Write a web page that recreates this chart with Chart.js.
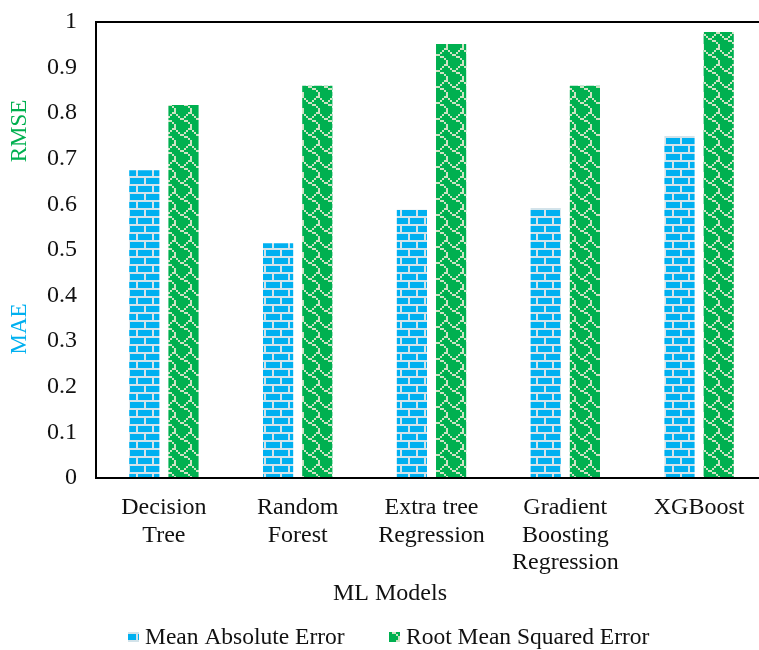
<!DOCTYPE html>
<html>
<head>
<meta charset="utf-8">
<title>MAE / RMSE by model</title>
<script src="https://cdn.jsdelivr.net/npm/chart.js@4.4.1/dist/chart.umd.min.js"></script>
<style>
  html, body { margin: 0; padding: 0; background: #fff; }
  #wrap { width: 759px; height: 650px; overflow: hidden; position: relative; }
  #chart { display: block; }
</style>
</head>
<body>
<div id="wrap"><canvas id="chart" width="766" height="650"></canvas></div>
<script>
// data
const models = [
  ["Decision", "Tree"],
  ["Random", "Forest"],
  ["Extra tree", "Regression"],
  ["Gradient", "Boosting", "Regression"],
  "XGBoost"
];
const maeValues  = [0.675, 0.515, 0.588, 0.592, 0.750];
const rmseValues = [0.818, 0.860, 0.952, 0.860, 0.978];
const yTickLabels = ["0", "0.1", "0.2", "0.3", "0.4", "0.5", "0.6", "0.7", "0.8", "0.9", "1"];
const seriesNames = ["Mean Absolute Error", "Root Mean Squared Error"];

const BLUE = "#00B0F0";
const GREEN = "#00B050";
const FONT = "'Liberation Serif', 'Times New Roman', serif";
const PLOT_TOP = 22;

// 8x8 hatch bitmaps, drawn at 2x
const brickBits = [
  "11111111",
  "10000000",
  "10000000",
  "10000000",
  "11111111",
  "00001000",
  "00001000",
  "00001000"
];
const shingleBits = [
  "00000011",
  "10000100",
  "01001000",
  "00110000",
  "00001100",
  "00000010",
  "00000001",
  "00000001"
];

function makePattern(ctx, bits, bg, fg){
  const c = document.createElement("canvas");
  c.width = 16; c.height = 16;
  const g = c.getContext("2d");
  g.fillStyle = bg;
  g.fillRect(0, 0, 16, 16);
  g.fillStyle = fg;
  bits.forEach((row, y) => {
    [...row].forEach((b, x) => { if(b === "1") g.fillRect(x*2, y*2, 2, 2); });
  });
  return ctx.createPattern(c, "repeat");
}

const canvas = document.getElementById("chart");
const ctx = canvas.getContext("2d");
const brick = makePattern(ctx, brickBits, BLUE, "#d3e3ea");
const shingle = makePattern(ctx, shingleBits, GREEN, "#cfe3c4");

// pin the top of the plot area
const pinTop = {
  id: "pinTop",
  afterLayout(chart){
    const y = chart.scales.y;
    y.top = PLOT_TOP;
    y.height = y.bottom - PLOT_TOP;
    y.configure();
    chart.chartArea.top = PLOT_TOP;
    chart.chartArea.height = chart.chartArea.bottom - PLOT_TOP;
  }
};

// frame, axis titles and legend
const decor = {
  id: "decor",
  afterDraw(chart){
    const { ctx, chartArea: a } = chart;
    ctx.save();
    ctx.strokeStyle = "#000";
    ctx.lineWidth = 2;
    ctx.beginPath();
    ctx.moveTo(a.right + 2, a.top);
    ctx.lineTo(a.left - 1, a.top);
    ctx.lineTo(a.left - 1, a.bottom);
    ctx.lineTo(a.right + 2, a.bottom);
    ctx.stroke();

    ctx.textBaseline = "middle";

    // y titles
    ctx.font = `23px ${FONT}`;
    ctx.textAlign = "center";
    [["RMSE", GREEN, 131], ["MAE", BLUE, 329]].forEach(([t, col, y]) => {
      ctx.save();
      ctx.translate(20, y);
      ctx.rotate(-Math.PI / 2);
      ctx.fillStyle = col;
      ctx.fillText(t, 0, 0);
      ctx.restore();
    });

    // x title
    ctx.font = `24px ${FONT}`;
    ctx.fillStyle = "#111";
    ctx.fillText("ML Models", 390, 594);

    // legend
    ctx.font = `23.5px ${FONT}`;
    ctx.textAlign = "left";
    const items = [[brick, 128, seriesNames[0]], [shingle, 389, seriesNames[1]]];
    items.forEach(([pat, x, label]) => {
      ctx.fillStyle = pat;
      ctx.fillRect(x, 632, 11, 10);
      ctx.fillStyle = "#111";
      ctx.fillText(label, x + 17, 638);
    });
    ctx.restore();
  }
};

new Chart(ctx, {
  type: "bar",
  data: {
    labels: models,
    datasets: [
      { label: seriesNames[0], data: maeValues, backgroundColor: brick, borderWidth: 0,
        categoryPercentage: 0.586, barPercentage: 0.77 },
      { label: seriesNames[1], data: rmseValues, backgroundColor: shingle, borderWidth: 0,
        categoryPercentage: 0.586, barPercentage: 0.77 }
    ]
  },
  options: {
    responsive: false,
    animation: false,
    layout: { padding: { top: 22, right: 0, left: 0, bottom: 0 } },
    plugins: { legend: { display: false }, tooltip: { enabled: false } },
    scales: {
      x: {
        grid: { display: false, drawTicks: false },
        border: { display: false },
        ticks: { color: "#111", font: { family: FONT, size: 24, lineHeight: 1.15 }, padding: 16, maxRotation: 0, autoSkip: false },
        afterFit(s){ s.height = 172; }
      },
      y: {
        min: 0, max: 1,
        grid: { display: false, drawTicks: false },
        border: { display: false },
        ticks: {
          stepSize: 0.1,
          color: "#111",
          font: { family: FONT, size: 24 },
          padding: 20,
          callback: (v, i) => yTickLabels[i]
        },
        afterFit(s){ s.width = 97; }
      }
    }
  },
  plugins: [pinTop, decor]
});
</script>
</body>
</html>
